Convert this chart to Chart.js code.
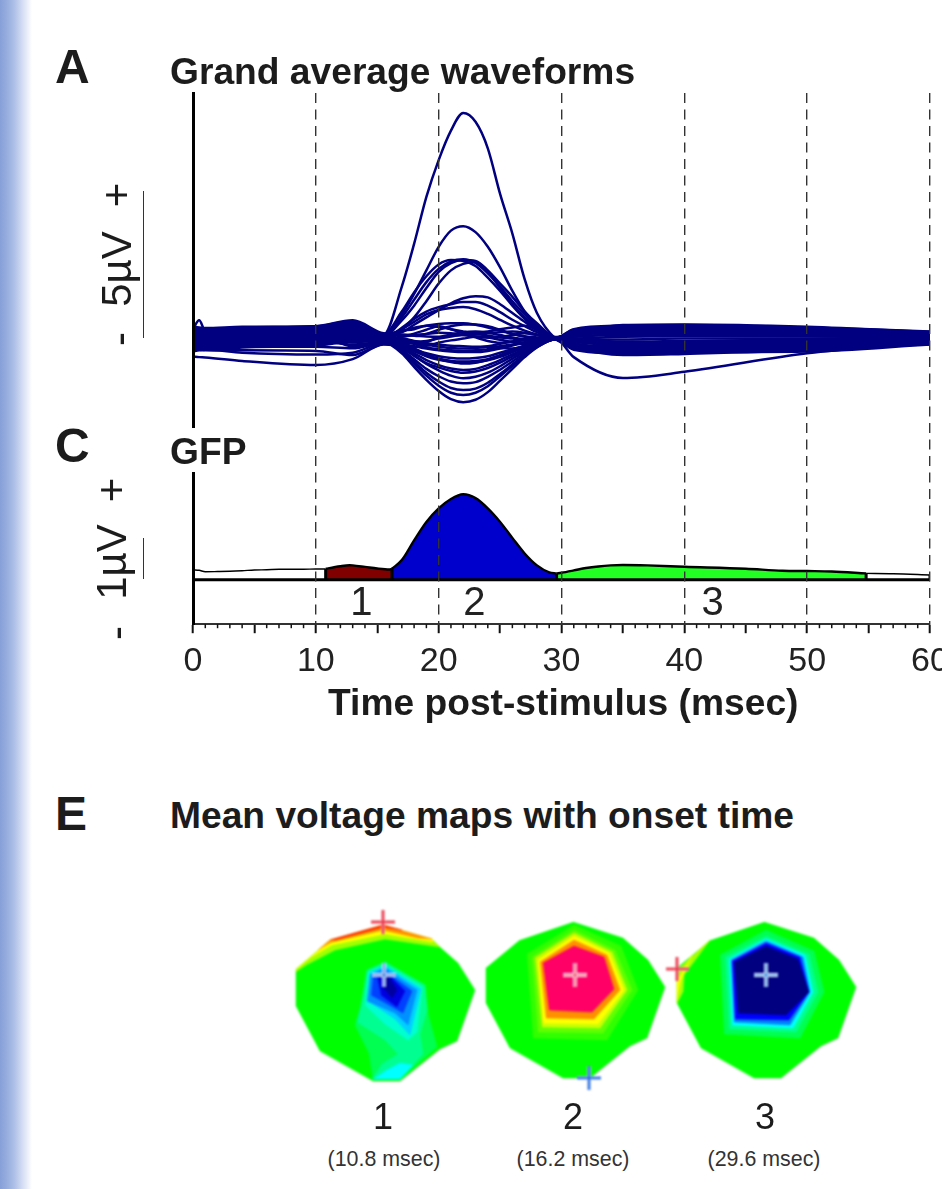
<!DOCTYPE html>
<html>
<head>
<meta charset="utf-8">
<title>Grand average waveforms</title>
<script src="https://cdn.jsdelivr.net/npm/chart.js@4"></script>
<style>
  html, body { margin: 0; padding: 0; background: #fff; }
  body { width: 942px; height: 1189px; overflow: hidden; position: relative; font-family: "Liberation Sans", Arial, sans-serif; color: #1c1c1c; }
  .edge { position: absolute; left: 0; top: 0; width: 32px; height: 1189px; background: linear-gradient(90deg, #86a0d8 0, #94abdd 6px, #adbfe6 14px, #cdd8f1 21px, #e9edf9 27px, #fff 32px); }
  canvas { position: absolute; }
  .map { filter: blur(1.2px); }
  .txt { position: absolute; white-space: nowrap; line-height: 1; transform: translate(-50%, -50%); }
  .head { position: absolute; white-space: nowrap; line-height: 1; font-weight: bold; font-size: 37.2px; }
  .letter { position: absolute; line-height: 1; font-weight: bold; font-size: 48px; }
  .rot { transform: translate(-50%, -50%) rotate(-90deg); font-size: 42px; }
  .bar { position: absolute; left: 143px; width: 1px; background: #333; }
  .num { font-size: 36px; }
  .onset { font-size: 21.4px; color: #333; }
</style>
</head>
<body>
<div class="edge"></div>
<canvas id="waveChart" width="1000" height="730" style="left:0;top:0"></canvas>
<canvas id="map1" class="map" width="200" height="210" style="left:285px;top:893px"></canvas>
<canvas id="map2" class="map" width="200" height="210" style="left:475px;top:890px"></canvas>
<canvas id="map3" class="map" width="200" height="210" style="left:666px;top:890px"></canvas>

<div class="letter" style="left:55px;top:43px">A</div>
<div class="head" style="left:170px;top:53px">Grand average waveforms</div>
<div class="letter" style="left:55px;top:422px">C</div>
<div class="head" style="left:170px;top:433px">GFP</div>
<div class="letter" style="left:55px;top:790px">E</div>
<div class="head" style="left:170px;top:797px">Mean voltage maps with onset time</div>
<div class="head" style="left:328px;top:684px">Time post-stimulus (msec)</div>

<div class="txt rot" style="left:117px;top:195px">+</div>
<div class="txt rot" style="left:117px;top:269px">5µV</div>
<div class="txt rot" style="left:120px;top:339px">-</div>
<div class="bar" style="top:191px;height:147px"></div>
<div class="txt rot" style="left:112px;top:490px">+</div>
<div class="txt rot" style="left:112px;top:562px">1µV</div>
<div class="txt rot" style="left:117px;top:633px">-</div>
<div class="bar" style="top:538px;height:41px"></div>

<div class="txt num" style="left:383px;top:1117px">1</div>
<div class="txt num" style="left:573px;top:1117px">2</div>
<div class="txt num" style="left:765px;top:1117px">3</div>
<div class="txt onset" style="left:384px;top:1160px">(10.8 msec)</div>
<div class="txt onset" style="left:573px;top:1160px">(16.2 msec)</div>
<div class="txt onset" style="left:764px;top:1160px">(29.6 msec)</div>

<script>
// ── Waveform data (µV, one row per channel) ───────────────
const waveTimes = [0, 0.5, 1, 4, 10, 13, 15.5, 17, 18, 19, 20, 21, 22, 23, 24, 25, 26, 27, 28, 29.5, 31, 35, 40, 50, 60];
const waveChannels = [
  [0.10,0.12,0.08,0.15,0.20,0.40,0.10,1.75,3.20,4.80,6.05,7.05,7.65,7.35,6.45,4.90,3.55,2.00,0.85,-0.02,-0.30,-0.42,-0.38,-0.28,-0.12],
  [-0.05,-0.02,-0.08,0.02,0.10,0.30,0.08,0.80,1.50,2.30,3.10,3.65,3.80,3.60,3.10,2.40,1.60,0.90,0.40,-0.05,-0.20,-0.32,-0.28,-0.20,-0.10],
  [0.20,0.22,0.18,0.25,0.30,0.50,0.12,0.90,1.55,2.10,2.50,2.65,2.62,2.45,2.05,1.60,1.10,0.65,0.30,-0.03,-0.10,-0.22,-0.20,-0.15,-0.08],
  [0.30,0.28,0.26,0.32,0.36,0.55,0.10,0.70,1.30,1.90,2.35,2.60,2.68,2.55,2.20,1.75,1.25,0.80,0.40,0.02,0.05,0.10,0.10,0.08,0.05],
  [-0.15,-0.12,-0.18,-0.10,-0.05,0.20,0.05,0.60,1.10,1.70,2.25,2.55,2.65,2.62,2.30,1.85,1.40,0.90,0.50,0.03,0.12,0.18,0.16,0.12,0.08],
  [0.05,0.08,0.04,0.10,0.16,0.38,0.02,0.30,0.70,1.25,1.85,2.30,2.52,2.58,2.25,1.70,1.15,0.70,0.35,0.00,-0.05,-0.12,-0.10,-0.06,-0.02],
  [0.38,0.36,0.34,0.38,0.40,0.58,0.14,0.20,0.45,0.70,0.95,1.18,1.35,1.42,1.38,1.15,0.85,0.55,0.28,0.02,0.20,0.35,0.34,0.28,0.15],
  [-0.28,-0.25,-0.30,-0.22,-0.16,0.10,-0.02,0.35,0.65,0.90,1.05,1.15,1.22,1.22,1.10,0.88,0.62,0.40,0.20,0.00,0.25,0.40,0.42,0.34,0.20],
  [0.14,0.16,0.12,0.18,0.22,0.42,0.06,0.30,0.55,0.80,0.95,1.02,1.05,0.98,0.82,0.62,0.42,0.25,0.12,-0.02,0.15,0.28,0.30,0.24,0.14],
  [-0.22,-0.20,-0.24,-0.16,-0.12,0.05,-0.05,0.22,0.35,0.42,0.48,0.50,0.50,0.45,0.36,0.25,0.14,0.06,0.02,-0.04,0.08,0.22,0.25,0.20,0.10],
  [0.24,0.25,0.20,0.28,0.32,0.46,0.12,0.25,0.30,0.42,0.38,0.30,0.22,0.14,0.08,0.02,-0.02,-0.06,-0.04,-0.02,0.30,0.42,0.44,0.36,0.22],
  [-0.32,-0.30,-0.34,-0.28,-0.20,-0.05,-0.08,-0.05,-0.12,-0.10,-0.02,0.05,0.12,0.18,0.22,0.30,0.36,0.42,0.28,-0.02,0.22,0.36,0.40,0.30,0.18],
  [0.02,0.04,0.00,0.06,0.08,0.25,0.00,0.10,0.08,0.05,0.04,0.08,0.10,0.12,0.16,0.20,0.22,0.18,0.10,0.00,0.10,0.26,0.28,0.22,0.12],
  [-0.10,-0.08,-0.12,-0.06,-0.02,0.18,-0.04,-0.02,-0.10,-0.18,-0.22,-0.26,-0.28,-0.30,-0.30,-0.28,-0.22,-0.14,-0.06,-0.02,0.04,0.14,0.18,0.16,0.08],
  [0.32,0.30,0.30,0.34,0.38,0.52,0.08,-0.08,-0.20,-0.32,-0.38,-0.42,-0.44,-0.42,-0.38,-0.34,-0.36,-0.30,-0.14,-0.03,0.18,0.32,0.36,0.30,0.16],
  [-0.38,-0.36,-0.40,-0.32,-0.26,-0.12,-0.12,-0.25,-0.38,-0.52,-0.62,-0.68,-0.70,-0.68,-0.62,-0.50,-0.38,-0.26,-0.14,-0.04,-0.05,-0.05,-0.02,-0.02,0.00],
  [0.18,0.20,0.15,0.22,0.26,0.44,0.04,-0.15,-0.35,-0.55,-0.72,-0.82,-0.87,-0.84,-0.74,-0.58,-0.42,-0.26,-0.12,-0.02,-0.12,-0.15,-0.14,-0.10,-0.05],
  [-0.18,-0.16,-0.20,-0.14,-0.08,0.12,-0.06,-0.30,-0.52,-0.75,-0.92,-1.04,-1.09,-1.05,-0.92,-0.75,-0.56,-0.38,-0.20,-0.05,-0.20,-0.28,-0.28,-0.22,-0.12],
  [0.08,0.10,0.06,0.12,0.16,0.32,0.00,-0.32,-0.60,-0.88,-1.10,-1.28,-1.37,-1.32,-1.18,-0.96,-0.70,-0.46,-0.24,-0.05,-0.28,-0.36,-0.36,-0.30,-0.16],
  [-0.26,-0.24,-0.28,-0.24,-0.18,0.00,-0.10,-0.40,-0.72,-1.05,-1.30,-1.48,-1.54,-1.50,-1.32,-1.08,-0.80,-0.52,-0.26,-0.04,-0.32,-0.42,-0.40,-0.34,-0.18],
  [-0.02,0.00,-0.04,0.02,0.04,0.22,-0.03,-0.42,-0.80,-1.18,-1.48,-1.70,-1.77,-1.72,-1.52,-1.22,-0.90,-0.58,-0.30,-0.04,-0.36,-0.46,-0.44,-0.36,-0.18],
  [-0.34,-0.32,-0.36,-0.30,-0.24,-0.06,-0.12,-0.52,-0.98,-1.42,-1.80,-2.08,-2.18,-2.10,-1.84,-1.45,-1.05,-0.65,-0.32,-0.04,-0.40,-0.52,-0.50,-0.38,-0.20],
  [0.12,0.14,0.10,0.16,0.18,0.36,-0.02,-0.48,-0.88,-1.28,-1.62,-1.86,-1.94,-1.86,-1.64,-1.30,-0.95,-0.60,-0.30,-0.04,-0.30,-0.40,-0.38,-0.30,-0.16],
  [-0.63,-0.65,-0.66,-0.78,-0.92,-0.72,-0.22,-0.28,-0.45,-0.60,-0.70,-0.78,-0.80,-0.78,-0.72,-0.60,-0.46,-0.30,-0.14,-0.02,-0.65,-1.36,-1.15,-0.52,-0.15],
  [-0.45,-0.42,-0.40,-0.50,-0.56,-0.50,-0.18,-0.20,-0.28,-0.36,-0.42,-0.46,-0.48,-0.48,-0.44,-0.36,-0.26,-0.16,-0.08,-0.03,-0.30,-0.58,-0.54,-0.42,-0.20],
  [-0.40,-0.40,-0.42,-0.42,-0.44,-0.58,-0.20,-0.18,-0.16,-0.22,-0.30,-0.34,-0.36,-0.34,-0.28,-0.20,-0.12,-0.08,-0.04,-0.03,-0.24,-0.48,-0.48,-0.46,-0.22],
  [0.30,0.60,0.25,0.36,0.40,0.60,0.16,0.12,0.10,0.14,0.18,0.16,0.10,0.05,0.02,0.04,0.10,0.16,0.10,0.01,0.16,0.44,0.46,0.38,0.20],
  [0.00,0.02,-0.02,0.04,0.06,-0.10,-0.08,-0.12,-0.18,-0.26,-0.16,-0.08,-0.02,0.04,0.02,-0.06,-0.14,-0.20,-0.12,-0.03,-0.14,-0.24,-0.24,-0.18,-0.08],
  [-0.12,-0.14,-0.16,-0.18,-0.10,-0.22,-0.10,0.04,0.10,0.14,0.28,0.40,0.46,0.46,0.40,0.28,0.14,0.04,-0.02,-0.03,-0.08,-0.16,-0.14,-0.12,-0.05],
  [0.24,0.22,0.22,0.12,0.12,-0.28,-0.14,-0.24,-0.30,-0.14,0.02,0.12,0.20,0.22,0.18,0.10,0.02,-0.04,-0.08,-0.03,-0.02,0.04,0.06,0.05,0.03],
  [-0.20,-0.22,-0.24,-0.30,-0.30,-0.35,-0.16,-0.35,-0.60,-0.85,-1.00,-1.12,-1.18,-1.14,-1.02,-0.84,-0.62,-0.40,-0.20,-0.04,-0.24,-0.32,-0.32,-0.26,-0.14],
  [0.06,0.08,0.02,0.08,0.12,-0.15,-0.06,-0.22,-0.42,-0.62,-0.74,-0.80,-0.82,-0.82,-0.76,-0.64,-0.48,-0.32,-0.16,-0.02,-0.18,-0.44,-0.46,-0.40,-0.20],
  [-0.08,-0.06,-0.10,-0.04,0.00,-0.02,-0.02,0.05,0.15,0.28,0.40,0.30,0.16,0.02,-0.10,-0.16,-0.12,-0.05,-0.02,-0.01,0.28,0.38,0.38,0.26,0.14]
];

// ── GFP data (µV) ──────────────────────────────────────────
const gfpTimes  = [0,0.5,1,2,3,4,5,6,7,8,9,10,10.8,11,12,12.75,13,14,15,16,16.2,17,18,19,20,21,22,23,24,25,26,27,28,29,29.6,30,31,32,33,34,35,37,40,45,48,50,52,54.8,57,60];
const gfpValues = [0.24,0.23,0.195,0.2,0.207,0.22,0.237,0.244,0.254,0.256,0.256,0.263,0.263,0.276,0.33,0.354,0.349,0.312,0.273,0.251,0.268,0.48,0.96,1.41,1.74,1.97,2.085,1.99,1.74,1.41,1.02,0.64,0.35,0.18,0.151,0.171,0.227,0.285,0.324,0.349,0.359,0.349,0.317,0.268,0.22,0.212,0.202,0.154,0.146,0.115];
const segmentEdges  = [0, 10.8, 16.2, 29.6, 54.8, 60];
const segmentColors = ['#ffffff', '#800000', '#0000cd', '#22ff22', '#ffffff'];
const segmentNames  = ['1', '2', '3'];
const segmentLabelX = [13.7, 22.9, 42.3];

// ── Axis ticks ─────────────────────────────────────────────
const timeMin = 0, timeMax = 60;
const minorTimes = [1,2,3,4,6,7,8,9,11,12,13,14,16,17,18,19,21,22,23,24,26,27,28,29,31,32,33,34,36,37,38,39,41,42,43,44,46,47,48,49,51,52,53,54,56,57,58,59];

// ── Topographic maps: contours as [x, y] on a 200-wide head frame ──
const headOutline = [[98,12],[148,28],[173,50],[190,77],[172,128],[155,136],[115,168],[88,168],[35,138],[11,93],[11,58],[45,30]];

const map1Contours = [
  [[11,59],[11,56],[45,27],[98,12],[147,26],[155,34],[100,26],[50,37],[23,51]],
  [[12,56],[45,28],[98,12],[147,26],[148,29],[100,21],[47,32],[22,47]],
  [[33,37],[45,27],[98,12],[147,26],[133,25],[98,17],[47,29]],
  [[45,27],[98,12],[117,17],[98,14],[50,27]],
  [[76,95],[70,112],[84,140],[88,166],[115,166],[152,134],[143,101],[140,74],[100,49],[81,58]],
  [[75,96],[72,109],[100,127],[113,141],[97,151],[87,166],[115,166],[138,141],[135,121],[142,97],[140,72],[100,49],[82,57]],
  [[80,92],[100,111],[123,127],[132,119],[137,74],[100,52],[83,59]],
  [[88,166],[115,166],[128,152],[115,150],[100,158]],
  [[83,88],[110,106],[125,122],[136,76],[100,53],[85,60]],
  [[85,62],[100,55],[132,77],[123,112],[110,100],[82,88]],
  [[88,64],[100,58],[127,78],[118,100],[97,88],[86,82]],
  [[92,63],[102,60],[120,78],[112,94],[96,82]],
  [[96,62],[103,62],[112,77],[107,85],[98,74]]
];
const map1Colors = ['#a0ff00','#ffff00','#ff9000','#ff2000','#00ff50','#00ff90','#00ffd0','#00ffff','#00d0ff','#0090ff','#0040ff','#0000e0','#0000a0'];
const map1Crosses = [[98,9],[99,62]];

const map2Contours = [
  [[52,44],[99,15],[146,36],[163,80],[132,130],[58,128]],
  [[57,47],[99,20],[140,40],[157,80],[128,123],[63,122]],
  [[60,48],[99,23],[137,42],[152,80],[125,118],[67,117]],
  [[63,50],[99,26],[134,43],[149,80],[123,114],[68,113]],
  [[65,52],[99,30],[132,45],[145,80],[119,109],[71,108]],
  [[68,53],[99,36],[129,47],[139,79],[117,102],[74,100]]
];
const map2Colors = ['#30ff00','#60ff00','#c8ff00','#ffff00','#ff9000','#ff0066'];
const map2Crosses = [[100,65],[114,168]];

const map3Contours = [
  [[11,94],[11,60],[44,30],[18,65],[17,82]],
  [[11,90],[11,72],[26,45],[15,70]],
  [[54,45],[100,20],[148,41],[158,82],[134,128],[58,124]],
  [[59,47],[100,26],[143,44],[152,82],[130,122],[63,119]],
  [[63,49],[100,29],[139,45],[147,82],[127,118],[66,115]],
  [[65,50],[100,31],[137,47],[144,82],[124,115],[68,112]],
  [[66,51],[100,33],[134,47],[143,82],[123,110],[69,109]],
  [[68,52],[100,36],[132,49],[143,82],[120,105],[72,103]]
];
const map3Colors = ['#a8ff00','#ffff00','#00ff50','#00ff90','#00ffff','#0080ff','#0000ff','#000080'];
const map3Crosses = [[100,65],[11,59]];

// ── Plugin: minor ticks and segment numbers ────────────────
const wavePanelExtras = {
  id: 'wavePanelExtras',
  afterDraw(chart) {
    const { ctx, scales } = chart;
    const base = scales.x.top;
    ctx.save();
    ctx.strokeStyle = '#111';
    ctx.lineWidth = 1.5;
    minorTimes.forEach(t => {
      const px = scales.x.getPixelForValue(t);
      ctx.beginPath();
      ctx.moveTo(px, base);
      ctx.lineTo(px, base + 4);
      ctx.stroke();
    });
    ctx.fillStyle = '#222';
    ctx.font = '40px "Liberation Sans"';
    ctx.textAlign = 'center';
    ctx.textBaseline = 'middle';
    segmentNames.forEach((name, i) => {
      ctx.fillText(name, scales.x.getPixelForValue(segmentLabelX[i]), scales.yGfp.getPixelForValue(-0.6));
    });
    ctx.restore();
  }
};

// ── Waveform + GFP chart ───────────────────────────────────
function gfpSlice(from, to) {
  return gfpTimes.map((t, i) => ({ x: t, y: gfpValues[i] })).filter(p => p.x >= from && p.x <= to);
}

const waveDatasets = waveChannels.map((row, c) => ({
  label: 'Channel ' + (c + 1),
  yAxisID: 'yWave',
  data: row.map((v, i) => ({ x: waveTimes[i], y: v })),
  borderColor: '#000080',
  borderWidth: 2.5,
  pointRadius: 0,
  showLine: true,
  cubicInterpolationMode: 'monotone'
}));

const segmentDatasets = segmentColors.map((color, i) => ({
  label: 'Segment ' + i,
  yAxisID: 'yGfp',
  data: gfpSlice(segmentEdges[i], segmentEdges[i + 1]),
  backgroundColor: color,
  borderColor: '#000',
  borderWidth: color === '#ffffff' ? 1.4 : 2.4,
  fill: 'origin',
  pointRadius: 0,
  showLine: true,
  cubicInterpolationMode: 'monotone',
  order: 2
}));

const dividerPoints = [];
segmentEdges.slice(1).forEach(t => {
  const i = gfpTimes.indexOf(t);
  dividerPoints.push({ x: t, y: 0 }, { x: t, y: gfpValues[i] }, { x: t, y: NaN });
});

const gfpFrame = [
  { label: 'Dividers', yAxisID: 'yGfp', data: dividerPoints, borderColor: '#000', borderWidth: 3, pointRadius: 0, showLine: true, order: 1 },
  { label: 'Baseline', yAxisID: 'yGfp', data: [{ x: timeMin, y: 0 }, { x: timeMax, y: 0 }], borderColor: '#000', borderWidth: 3, pointRadius: 0, showLine: true, order: 1 }
];

new Chart(document.getElementById('waveChart'), {
  type: 'scatter',
  data: { datasets: [...gfpFrame, ...segmentDatasets, ...waveDatasets] },
  plugins: [wavePanelExtras],
  options: {
    responsive: false,
    animation: false,
    layout: { autoPadding: false, padding: { left: 193, right: 70, top: 93, bottom: 40 } },
    plugins: { legend: { display: false }, tooltip: { enabled: false } },
    scales: {
      x: {
        type: 'linear', min: timeMin, max: timeMax,
        grid: {
          z: 1, tickLength: 9, tickWidth: 2, tickColor: '#111', lineWidth: 1.4,
          color: c => (c.tick && c.tick.value % 10 === 0 && c.tick.value !== 0) ? '#333' : 'rgba(0,0,0,0)'
        },
        border: { display: true, color: '#333', width: 2, dash: [10, 6.5], z: 2 },
        ticks: {
          stepSize: 5, autoSkip: false, maxRotation: 0, padding: 8, color: '#222',
          font: { family: '"Liberation Sans"', size: 34 },
          callback: v => (v % 10 === 0 ? String(v) : '')
        }
      },
      yWave: {
        type: 'linear', min: -3.03, max: 8.33, position: 'left', stack: 'panels', stackWeight: 334, weight: 3,
        ticks: { display: false }, grid: { drawOnChartArea: false, drawTicks: false, z: 1 },
        border: { color: '#000', width: 3, z: 2 }
      },
      yGap: {
        type: 'linear', min: 0, max: 1, position: 'left', stack: 'panels', stackWeight: 46, weight: 2,
        ticks: { display: false }, grid: { display: false, drawTicks: false }, border: { display: false }
      },
      yGfp: {
        type: 'linear', min: -1.085, max: 2.6, position: 'left', stack: 'panels', stackWeight: 151, weight: 1,
        ticks: { display: false }, grid: { drawOnChartArea: false, drawTicks: false, z: 1 },
        border: { color: '#000', width: 3, z: 2 }
      }
    }
  }
});

// ── Voltage maps ───────────────────────────────────────────
function polygon(points, color) {
  return {
    data: points.map(p => ({ x: p[0], y: p[1] })),
    showLine: true, fill: 'shape', backgroundColor: color, borderColor: color, borderWidth: 0.5, pointRadius: 0, tension: 0
  };
}

function crossSet(point, color, width, size) {
  return {
    data: [{ x: point[0], y: point[1] }],
    showLine: false, pointStyle: 'cross', pointRadius: size, pointBorderColor: color, pointBorderWidth: width, borderColor: color
  };
}

function makeMap(id, contours, colors, crosses, crossColors, haloColors) {
  const layers = [polygon(headOutline, '#00ff00'), ...contours.map((pts, i) => polygon(pts, colors[i]))];
  const marks = [];
  crosses.forEach((p, i) => {
    marks.push(crossSet(p, haloColors[i], 3.8, 12));
    marks.push(crossSet(p, crossColors[i], 1.6, 12));
  });
  const sets = [...layers, ...marks];
  sets.forEach((s, i) => { s.order = sets.length - i; });
  new Chart(document.getElementById(id), {
    type: 'scatter',
    data: { datasets: sets },
    options: {
      responsive: false,
      animation: false,
      layout: { autoPadding: false, padding: 0 },
      plugins: { legend: { display: false }, tooltip: { enabled: false } },
      scales: {
        x: { type: 'linear', min: 0, max: 200, display: false },
        y: { type: 'linear', min: -20, max: 190, reverse: true, display: false }
      }
    }
  });
}

makeMap('map1', map1Contours, map1Colors, map1Crosses, ['#e8283f', '#3a7ae0'], ['#f8a0a8', '#ffffff']);
makeMap('map2', map2Contours, map2Colors, map2Crosses, ['#f05070', '#1a60e0'], ['#ffffff', '#a0c0f0']);
makeMap('map3', map3Contours, map3Colors, map3Crosses, ['#3a8ae0', '#e8283f'], ['#ffffff', '#f8a0a8']);
</script>
</body>
</html>
